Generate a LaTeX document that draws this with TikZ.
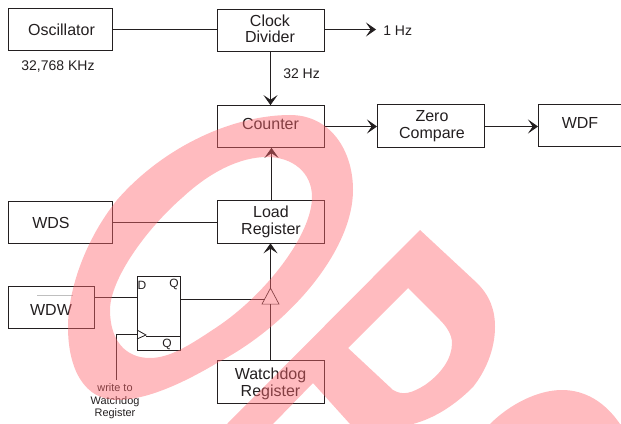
\documentclass[tikz,border=0pt]{standalone}
\usepackage{fontspec}
\setmainfont{Liberation Sans}
\usetikzlibrary{arrows.meta,shapes.geometric}
\definecolor{inkline}{HTML}{231F20}
\definecolor{markred}{HTML}{FF666E}
\tikzset{
  block/.style={draw=inkline,line width=0.6pt,minimum width=80.25pt,minimum height=32pt,inner sep=0pt,outer sep=0pt},
  blocktext/.style={inner sep=0pt,align=center,text=inkline,font=\fontsize{12pt}{12.3pt}\selectfont},
  label/.style={inner sep=0pt,text=inkline,font=\fontsize{10.5pt}{11pt}\selectfont},
  pinlabel/.style={inner sep=0pt,text=inkline,font=\fontsize{9pt}{10pt}\selectfont},
  wire/.style={draw=inkline,line width=0.6pt},
  stamp/.style={fill=markred,fill opacity=0.445,even odd rule}
}
\begin{document}
\begin{tikzpicture}[x=0.75pt,y=-0.75pt,>={Stealth[length=7.5pt,width=10.5pt,inset=3.5pt]}]
\useasboundingbox (0,0) rectangle (621,424);

\node[block,minimum width=78pt] (osc) at (60,29.5) {};
\node[block] (div) at (270.5,30.5) {};
\node[block] (cnt) at (270.5,126.5) {};
\node[block] (zero) at (430.5,126) {};
\node[block,minimum width=63pt] (wdf) at (580,125.5) {};
\node[block,minimum width=78pt] (wds) at (60,222.5) {};
\node[block] (load) at (270.5,222) {};
\node[block,minimum width=64.5pt] (wdw) at (51,307.5) {};
\node[block] (wreg) at (270.5,382) {};
\node[block,minimum width=32.25pt,minimum height=55.5pt] (ff) at (158.5,313) {};
\node[draw=inkline,line width=0.5pt,isosceles triangle,shape border rotate=90,isosceles triangle apex angle=56,minimum height=12pt,inner sep=0pt,outer sep=0pt,minimum width=12pt] (buf) at (270.5,299) {};

\node[blocktext] (osctext) at (61.5,29.5) {Oscillator};
\node[blocktext] (divtext) at (270,28.5) {Clock\\Divider};
\node[blocktext] (cnttext) at (270.5,123.5) {Counter};
\node[blocktext] (zerotext) at (432,126) {Zero\\Compare};
\node[blocktext] (wdftext) at (580,122.5) {WDF};
\node[blocktext] (wdstext) at (51,222.5) {WDS};
\node[blocktext] (loadtext) at (271,222) {Load\\Register};
\node[blocktext] (wdwtext) at (51,310) {WDW};
\node[blocktext] (wregtext) at (270.5,384) {Watchdog\\Register};

\node[label] (osclbl) at (58,67) {32,768 KHz};
\coordinate (hz) at (376,29.5);
\node[label,anchor=west] (hzlbl) at (383,31) {1 Hz};
\node[label,anchor=west] (slow) at (283,74) {32 Hz};
\node[pinlabel] (dpin) at (142,285) {D};
\node[pinlabel] (qpin) at (174,284) {Q};
\node[pinlabel] (nqpin) at (167,344) {Q};
\node[label,align=center,font=\fontsize{8.2pt}{9.4pt}\selectfont] (wrlbl) at (115,401.5) {write to\\Watchdog\\Register};

\coordinate (clk) at (137,334);
\coordinate (clktip) at (146,335);
\coordinate (wrtop) at (116,334);
\coordinate (wrend) at (116,380);

\draw[wire] (osc.east) -- (div.west |- osc.east);
\draw[wire,->] (div.east |- hz) -- (hz);
\draw[wire,->] (div) -- (cnt);
\draw[wire,->] (cnt) -- (zero.west |- cnt);
\draw[wire,->] (zero.east |- cnt) -- (wdf.west |- cnt);
\draw[wire,->] ([xshift=0.75pt]load.north) -- ([xshift=0.75pt]cnt.south);
\draw[wire] (wds.east |- load) -- (load);
\draw[wire] (wdw.east |- 0,297) -- (ff.west |- 0,297);
\draw[wire] (ff.east |- buf.west) -- (buf.west);
\draw[wire,->] (buf.apex) -- (load.south -| buf.apex);
\draw[wire] (wreg.north -| buf.apex) -- (buf.lower side);
\draw[wire] (wrend) -- (wrtop) -- (clk);
\draw[wire] (137,330) -- (clktip) -- (137,339);
\draw[wire] (clktip |- 0,336) -- (ff.east |- 0,336);
\draw[gray!50,line width=0.4pt] (37,295) -- (73,295);

% stamp
\begin{scope}
\clip (0,0) rectangle (621,424);
\fill[stamp] (290,115) .. controls (330,115) and (353,150) .. (353,190)
  .. controls (353,250) and (290,325) .. (217,363)
  .. controls (180,385) and (145,400) .. (117,400)
  .. controls (85,400) and (68,370) .. (68,327)
  .. controls (68,290) and (85,240) .. (117,200)
  .. controls (165,145) and (235,115) .. (290,115) -- cycle
  (267,157) .. controls (292,157) and (312,172) .. (312,197)
  .. controls (312,235) and (265,295) .. (217,327)
  .. controls (190,345) and (170,358) .. (150,358)
  .. controls (125,358) and (110,340) .. (110,310)
  .. controls (110,280) and (145,230) .. (183,197)
  .. controls (210,172) and (240,157) .. (267,157) -- cycle;
\fill[stamp] (420,230) -- (477,283) .. controls (490,296) and (495,310) .. (495,327)
  .. controls (495,350) and (485,372) .. (473,387) .. controls (455,405) and (435,418) .. (413,424)
  -- (350,424) -- (313,383) -- (273,424) -- (227,424) -- cycle
  (408,288) -- (348,348) -- (393,390) .. controls (403,396) and (412,393) .. (425,385)
  .. controls (442,373) and (452,358) .. (452,343) .. controls (452,335) and (447,327) .. (440,320) -- cycle;
\fill[stamp] (490,424) .. controls (510,404) and (538,390) .. (562,390) .. controls (585,390) and (605,402) .. (620,424) -- cycle;
\end{scope}
\end{tikzpicture}
\end{document}
